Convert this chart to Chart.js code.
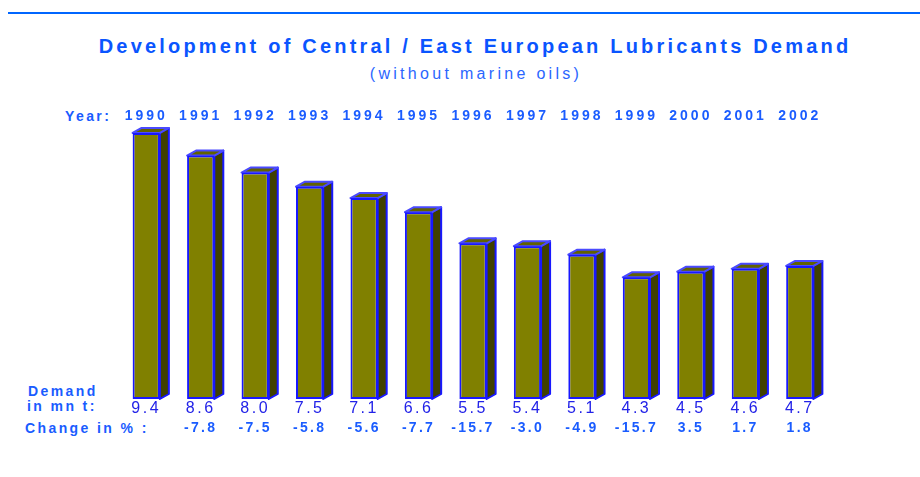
<!DOCTYPE html>
<html>
<head>
<meta charset="utf-8">
<script src="https://cdn.jsdelivr.net/npm/chart.js@4/dist/chart.umd.min.js"></script>
<style>
  html, body { margin: 0; padding: 0; background: #fff; }
  #wrap { position: relative; width: 920px; height: 477px; overflow: hidden; font-family: "Liberation Sans", Arial, sans-serif; }
  #rule { position: absolute; left: 8px; top: 12px; width: 912px; height: 2px; background: #0066ff; }
  .txt { position: absolute; white-space: nowrap; }
  #title { left: 0; width: 950px; top: 34px; line-height: 24px; text-align: center; font-size: 20px; font-weight: bold; letter-spacing: 3.2px; color: #0a55ff; }
  #subtitle { left: 0; width: 952px; top: 64px; line-height: 20px; text-align: center; font-size: 16px; letter-spacing: 3.3px; color: #2a66ff; }
  .lab { font-size: 14px; font-weight: bold; line-height: 16px; letter-spacing: 2.4px; color: #1a5cff; }
  canvas { position: absolute; left: 0; top: 0; }
</style>
</head>
<body>
<div id="wrap">
  <div id="rule"></div>
  <div id="title" class="txt">Development of Central / East European Lubricants Demand</div>
  <div id="subtitle" class="txt">(without marine oils)</div>
  <div class="txt lab" style="left:65px; top:107.5px;">Year:</div>
  <div class="txt lab" style="left:28px; top:382.5px;">Demand</div>
  <div class="txt lab" style="left:27px; top:398px;">in mn t:</div>
  <div class="txt lab" style="left:25px; top:419.5px;">Change in % :</div>
  <canvas id="c" width="920" height="477"></canvas>
</div>
<script>
// ---- data ----
const years = ['1990','1991','1992','1993','1994','1995','1996','1997','1998','1999','2000','2001','2002'];
const demand = [9.4, 8.6, 8.0, 7.5, 7.1, 6.6, 5.5, 5.4, 5.1, 4.3, 4.5, 4.6, 4.7];
const change = [null, -7.8, -7.5, -5.8, -5.6, -7.7, -15.7, -3.0, -4.9, -15.7, 3.5, 1.7, 1.8];
const demandLabels = demand.map(v => v.toFixed(1));
const changeLabels = change.map(v => v === null ? '' : v.toFixed(1));

const FONT = '"Liberation Sans", Arial, sans-serif';
const spacing = { x: '3px', val: '2.5px', chg: '2.3px' };

// letter spacing for axis labels
const spacingPlugin = {
  id: 'spacing',
  beforeDraw(chart) {
    Object.keys(spacing).forEach(id => {
      const s = chart.scales[id];
      if (s && !s.__wrapped) {
        const orig = Object.getPrototypeOf(s).drawLabels;
        s.drawLabels = function (area) {
          const ctx = this.ctx;
          ctx.save();
          ctx.letterSpacing = spacing[id];
          orig.call(this, area);
          ctx.restore();
        };
        s.__wrapped = true;
      }
    });
  }
};

// 3D top and side faces drawn from the bar elements' own geometry
const depthPlugin = {
  id: 'depth3d',
  beforeDatasetsDraw(chart) {
    const ctx = chart.ctx;
    const meta = chart.getDatasetMeta(0);
    const dx = 9, dy = 5;
    meta.data.forEach(bar => {
      const p = bar.getProps(['x', 'y', 'base', 'width'], true);
      const l = p.x - p.width / 2, r = p.x + p.width / 2;
      ctx.save();
      ctx.lineWidth = 2;
      ctx.lineJoin = 'round';
      // side
      ctx.beginPath();
      ctx.moveTo(r, p.y);
      ctx.lineTo(r + dx, p.y - dy);
      ctx.lineTo(r + dx, p.base - dy);
      ctx.lineTo(r, p.base);
      ctx.closePath();
      ctx.fillStyle = '#404000';
      ctx.fill();
      ctx.strokeStyle = '#1818ff';
      ctx.stroke();
      // top
      ctx.beginPath();
      ctx.moveTo(l, p.y);
      ctx.lineTo(l + dx, p.y - dy);
      ctx.lineTo(r + dx, p.y - dy);
      ctx.lineTo(r, p.y);
      ctx.closePath();
      ctx.fillStyle = '#626200';
      ctx.fill();
      ctx.strokeStyle = '#4a4aff';
      ctx.stroke();
      ctx.restore();
    });
  }
};

new Chart(document.getElementById('c'), {
  type: 'bar',
  data: {
    labels: years,
    datasets: [{
      data: demand,
      backgroundColor: '#808000',
      borderColor: '#1818ff',
      borderWidth: 2,
      borderSkipped: false,
      barPercentage: 0.5,
      categoryPercentage: 1.0
    }]
  },
  options: {
    responsive: false,
    animation: false,
    devicePixelRatio: 1,
    layout: { padding: { left: 119, right: 93, top: 106.3, bottom: 38 } },
    plugins: { legend: { display: false }, tooltip: { enabled: false }, title: { display: false } },
    scales: {
      x: {
        position: 'top',
        grid: { display: false, drawTicks: false },
        border: { display: false },
        ticks: { autoSkip: false, maxRotation: 0, padding: 3, color: '#1a5cff', font: { family: FONT, size: 14, weight: 'bold' } },
        afterFit: s => { s.height = 21; }
      },
      val: {
        type: 'category',
        labels: demandLabels,
        position: 'bottom',
        weight: 0,
        grid: { display: false, drawTicks: false },
        border: { display: false },
        ticks: { autoSkip: false, maxRotation: 0, padding: 0, color: '#2222e8', font: { family: FONT, size: 16 } },
        afterFit: s => { s.height = 20; }
      },
      chg: {
        type: 'category',
        labels: changeLabels,
        position: 'bottom',
        weight: 1,
        grid: { display: false, drawTicks: false },
        border: { display: false },
        ticks: { autoSkip: false, maxRotation: 0, padding: 1, color: '#1a5cff', font: { family: FONT, size: 14, weight: 'bold' } },
        afterFit: s => { s.height = 20; }
      },
      y: {
        display: false,
        min: 0,
        max: 9.6
      }
    }
  },
  plugins: [spacingPlugin, depthPlugin]
});
</script>
</body>
</html>
